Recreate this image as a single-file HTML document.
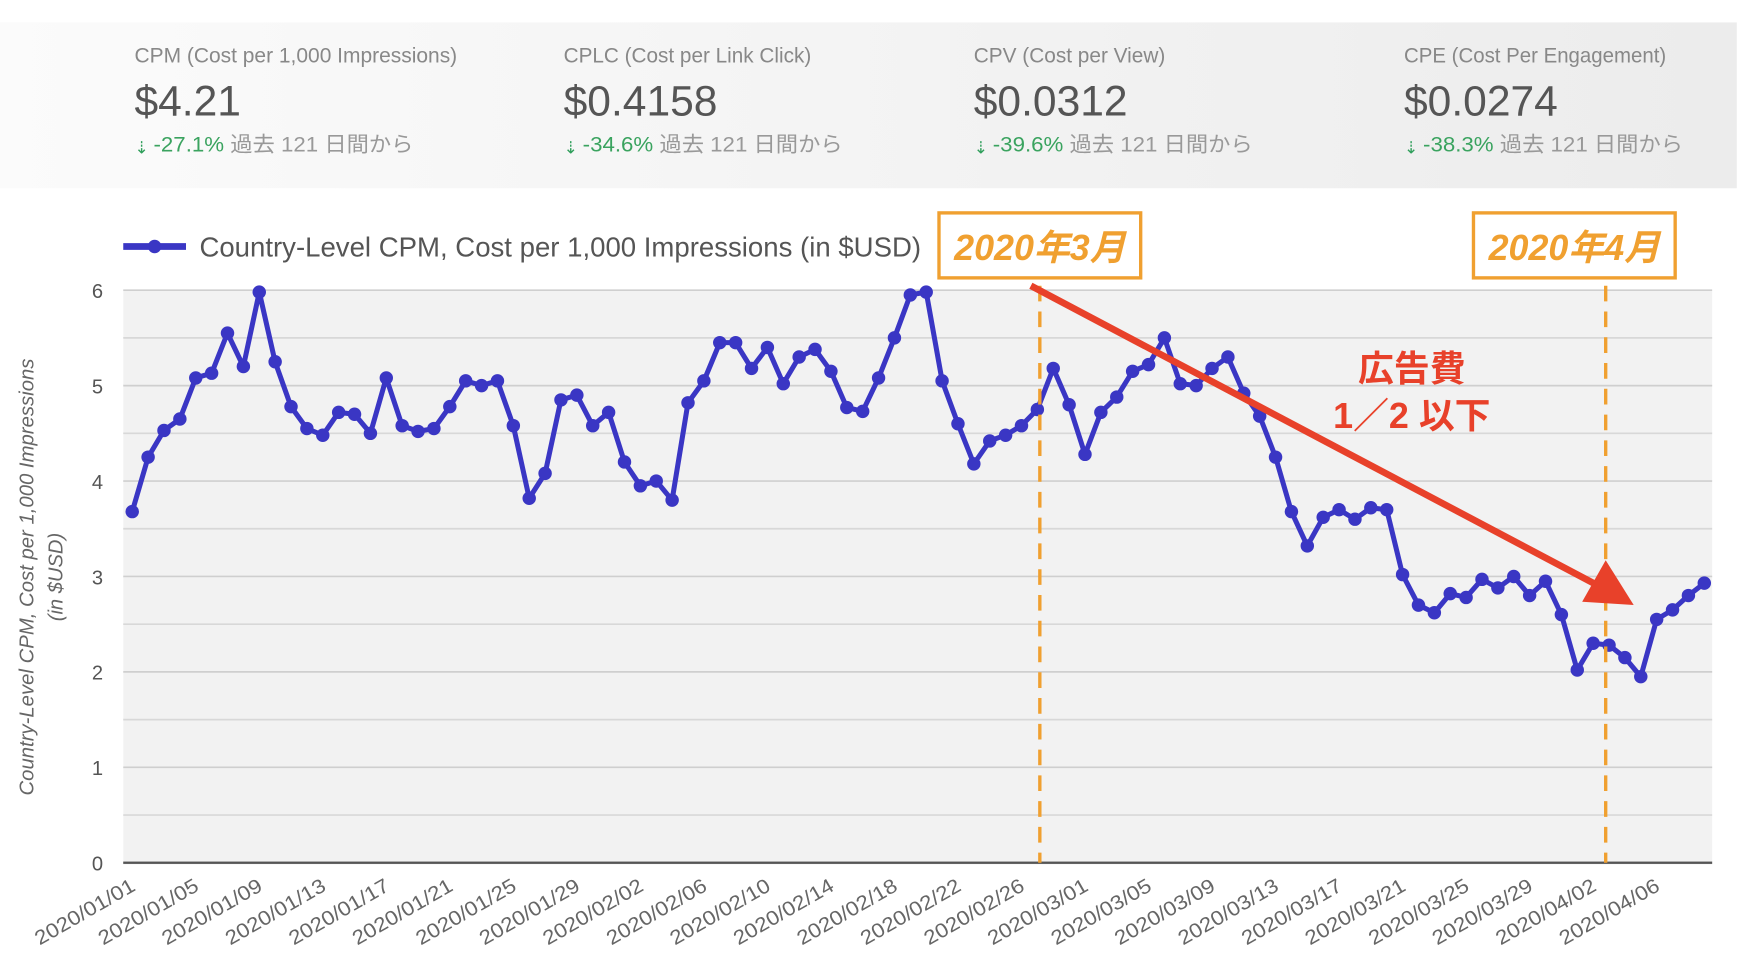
<!DOCTYPE html>
<html><head><meta charset="utf-8"><style>
html,body{margin:0;padding:0;background:#fff;width:1748px;height:958px;overflow:hidden}
svg{display:block}
text{font-family:"Liberation Sans","Noto Sans CJK JP",sans-serif}
</style></head><body>
<svg id="s" width="1748" height="958" viewBox="0 0 1560 855" preserveAspectRatio="none" xmlns="http://www.w3.org/2000/svg">
<defs><linearGradient id="g" x1="0" x2="1" y1="0" y2="0"><stop offset="0" stop-color="#fbfbfb"/><stop offset="1" stop-color="#ececec"/></linearGradient></defs>
<rect x="0" y="20" width="1550" height="148" fill="url(#g)"/>
<g id="kpi"></g>
<rect x="110" y="259" width="1418" height="511" fill="#f2f2f2"/>
<g id="grid"></g>
<g id="ser"></g>
<line x1="110" y1="220" x2="166" y2="220" stroke="#3a36c4" stroke-width="6"/>
<circle cx="138" cy="220" r="6" fill="#3a36c4"/>
<text x="178" y="229" font-size="25" fill="#555" textLength="644" lengthAdjust="spacingAndGlyphs">Country-Level CPM, Cost per 1,000 Impressions (in $USD)</text>
<text transform="translate(30,515) rotate(-90)" text-anchor="middle" font-size="18" font-style="italic" fill="#666" textLength="390" lengthAdjust="spacingAndGlyphs">Country-Level CPM, Cost per 1,000 Impressions</text>
<text transform="translate(56,515) rotate(-90)" text-anchor="middle" font-size="18" font-style="italic" fill="#666">(in $USD)</text>
<line x1="928" y1="255" x2="928" y2="770" stroke="#f0a030" stroke-width="3" stroke-dasharray="14,9"/>
<line x1="1433" y1="255" x2="1433" y2="770" stroke="#f0a030" stroke-width="3" stroke-dasharray="14,9"/>
<rect x="838" y="190" width="180" height="58" fill="#fff" stroke="#f0a030" stroke-width="3"/>
<text x="928" y="232" text-anchor="middle" font-size="32" font-weight="bold" font-style="italic" fill="#f0a030">2020年3月</text>
<rect x="1315" y="190" width="180" height="58" fill="#fff" stroke="#f0a030" stroke-width="3"/>
<text x="1405" y="232" text-anchor="middle" font-size="32" font-weight="bold" font-style="italic" fill="#f0a030">2020年4月</text>
<line x1="920" y1="255" x2="1425" y2="522" stroke="#e8412a" stroke-width="6"/>
<polygon points="1458,540 1412,537 1433,500" fill="#e8412a"/>
<text x="1260" y="340" text-anchor="middle" font-size="32" font-weight="bold" fill="#e8412a">広告費</text>
<text x="1260" y="382" text-anchor="middle" font-size="32" font-weight="bold" fill="#e8412a">1／2 以下</text>
</svg>
<script>
var NS="http://www.w3.org/2000/svg";
function el(p,t,a,txt){var e=document.createElementNS(NS,t);for(var k in a)e.setAttribute(k,a[k]);if(txt!=null)e.textContent=txt;document.getElementById(p).appendChild(e);return e;}
var k=[[120,"CPM (Cost per 1,000 Impressions)","$4.21","-27.1%",288],[503,"CPLC (Cost per Link Click)","$0.4158","-34.6%",221],[869,"CPV (Cost per View)","$0.0312","-39.6%",171],[1253,"CPE (Cost Per Engagement)","$0.0274","-38.3%",234]];
k.forEach(function(c){
el("kpi","text",{x:c[0],y:56,"font-size":19,fill:"#888",textLength:c[4],lengthAdjust:"spacingAndGlyphs"},c[1]);
el("kpi","text",{x:c[0],y:103,"font-size":38,fill:"#555"},c[2]);
el("kpi","text",{x:c[0],y:137,"font-size":15,fill:"#2e9e5a"},"⇣");
var t=el("kpi","text",{x:c[0]+17,y:135,"font-size":19,fill:"#999",textLength:232,lengthAdjust:"spacingAndGlyphs"});
var s=document.createElementNS(NS,"tspan");s.setAttribute("fill","#3aa35f");s.textContent=c[3];t.appendChild(s);
t.appendChild(document.createTextNode(" 過去 121 日間から"));
});
function Y(v){return 770-v*85.17;}
for(var i=0;i<=12;i++){var y=Y(i/2);el("grid","line",{x1:110,x2:1528,y1:y,y2:y,stroke:i%2?"#d8d8d8":"#cfcfcf","stroke-width":i==0?2.5:1.5});
if(i%2==0)el("grid","text",{x:92,y:y+7,"font-size":18,fill:"#555","text-anchor":"end"},i/2);}
el("grid","line",{x1:110,x2:1528,y1:770,y2:770,stroke:"#555","stroke-width":2});
var d=[3.68,4.25,4.53,4.65,5.08,5.13,5.55,5.2,5.98,5.25,4.78,4.55,4.48,4.72,4.7,4.5,5.08,4.58,4.52,4.55,4.78,5.05,5.0,5.05,4.58,3.82,4.08,4.85,4.9,4.58,4.72,4.2,3.95,4.0,3.8,4.82,5.05,5.45,5.45,5.18,5.4,5.02,5.3,5.38,5.15,4.77,4.73,5.08,5.5,5.95,5.98,5.05,4.6,4.18,4.42,4.48,4.58,4.75,5.18,4.8,4.28,4.72,4.88,5.15,5.22,5.5,5.02,5.0,5.18,5.3,4.92,4.68,4.25,3.68,3.32,3.62,3.7,3.6,3.72,3.7,3.02,2.7,2.62,2.82,2.78,2.97,2.88,3.0,2.8,2.95,2.6,2.02,2.3,2.28,2.15,1.95,2.55,2.65,2.8,2.93];
var n=d.length,dx=(1521-118)/(n-1),pts=[];
d.forEach(function(v,i){pts.push((118+i*dx).toFixed(1)+","+Y(v).toFixed(1));});
el("ser","polyline",{points:pts.join(" "),fill:"none",stroke:"#3a36c4","stroke-width":4.5,"stroke-linejoin":"round"});
d.forEach(function(v,i){el("ser","circle",{cx:118+i*dx,cy:Y(v),r:6,fill:"#3a36c4"});});
var months=[31,29,31,30];
function lab(i){var m=0,dd=i;while(dd>=months[m]){dd-=months[m];m++;}return "2020/"+("0"+(m+1)).slice(-2)+"/"+("0"+(dd+1)).slice(-2);}
for(var i=0;i<n;i+=4){var x=118+i*dx+4;el("ser","text",{transform:"translate("+x+",794) rotate(-30)","text-anchor":"end","font-size":18,fill:"#666",textLength:100,lengthAdjust:"spacingAndGlyphs"},lab(i));}
</script>
</body></html>
